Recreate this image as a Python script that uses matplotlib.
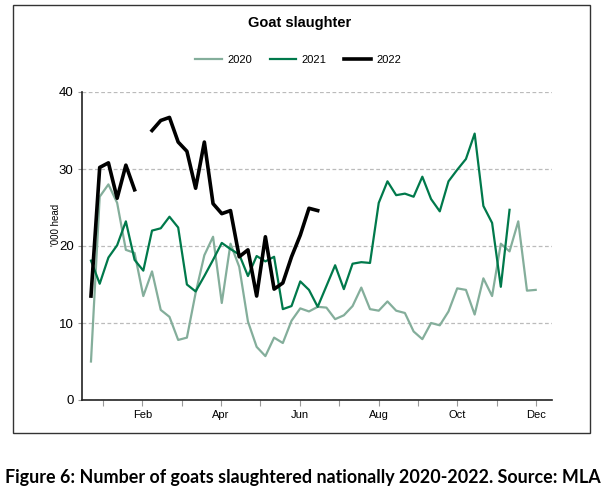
import matplotlib
matplotlib.use("Agg")
from matplotlib import pyplot as plt
from matplotlib.patches import Rectangle
import numpy as np

# weekly goat slaughter ('000 head)
y2020 = [5.0, 26.4, 28.0, 25.6, 19.5, 19.1, 13.5, 16.7, 11.7, 10.8, 7.8, 8.1, 13.9,
         18.8, 21.2, 12.6, 20.3, 17.3, 10.2, 6.9, 5.7, 8.1, 7.4, 10.3, 11.9, 11.5,
         12.1, 12.0, 10.5, 11.0, 12.2, 14.6, 11.8, 11.6, 12.8, 11.6, 11.3, 8.9, 7.9,
         10.0, 9.7, 11.5, 14.5, 14.3, 11.1, 15.8, 13.5, 20.3, 19.3, 23.2, 14.2, 14.3]
y2021 = [18.1, 15.1, 18.5, 20.1, 23.2, 18.2, 16.8, 22.0, 22.3, 23.8, 22.4, 15.0, 14.1,
         16.1, 18.2, 20.4, 19.6, 18.9, 16.1, 18.7, 18.0, 18.6, 11.8, 12.2, 15.4, 14.3,
         12.1, 14.8, 17.5, 14.4, 17.7, 17.9, 17.8, 25.6, 28.4, 26.6, 26.8, 26.4, 29.0,
         26.1, 24.5, 28.4, 29.9, 31.3, 34.6, 25.2, 23.0, 14.7, 24.7]
y2022 = [13.5, 30.2, 30.8, 26.2, 30.5, 27.3, np.nan, 35.0, 36.3, 36.7, 33.5, 32.3, 27.5,
         33.5, 25.5, 24.2, 24.6, 18.6, 19.5, 13.5, 21.2, 14.4, 15.2, 18.6, 21.4, 24.9,
         24.6]

months = ['Jan', 'Feb', 'Mar', 'Apr', 'May', 'Jun', 'Jul', 'Aug', 'Sep', 'Oct', 'Nov', 'Dec']
month_labels = [m if i % 2 == 1 else '' for i, m in enumerate(months)]

plt.rcParams.update({'font.family': ['Liberation Sans', 'DejaVu Sans']})

Figure = plt.figure(figsize=(6.06, 4.96), dpi=100)
Graph = Figure.add_axes([82/606, 1 - 400/496, (552-82)/606, (400-92)/496])

Graph.plot(np.arange(len(y2020)), y2020, color='#84ae9b', linewidth=1.6, label='2020')
Graph.plot(np.arange(len(y2021)), y2021, color='#00794b', linewidth=1.6, label='2021')
Graph.plot(np.arange(len(y2022)), y2022, color='black', linewidth=2.6, label='2022')

Graph.set_xlim(-1.03, 52.87)
Graph.set_ylim(0, 40)

# month ticks (every month marked, every other one labelled)
Xticks = 1.38 + 4.514 * np.arange(12)
Graph.set_xticks(Xticks)
Graph.set_xticklabels(month_labels, fontsize=8)
Graph.tick_params(axis='x', length=4, color='#999999', pad=3)

Graph.set_yticks([0, 10, 20, 30, 40])
Graph.set_yticklabels(['0', '10', '20', '30', '40'], fontsize=9.5)
Graph.tick_params(axis='y', length=3, color='#999999', pad=3)
Graph.set_ylabel("'000 head", fontsize=7)
Graph.yaxis.set_label_coords(-0.045, 0.57)

for s in ['top', 'right']:
    Graph.spines[s].set_visible(False)
for s in ['left', 'bottom']:
    Graph.spines[s].set_linewidth(1.2)
    Graph.spines[s].set_color('#222222')

Graph.set_axisbelow(True)
Graph.yaxis.grid(color='#bbbbbb', linestyle=(0, (3, 2)), linewidth=0.9)

lg = Graph.legend(loc='lower center', bbox_to_anchor=(0.46, 1.055), ncol=3, frameon=False,
                  fontsize=8, handlelength=2.4, columnspacing=1.6, handletextpad=0.5)

Figure.text(0.495, 1 - 23/496, 'Goat slaughter', ha='center', va='center',
            fontsize=10.5, fontweight='bold')

Figure.patches.append(Rectangle((13/606, 1 - 433/496), (590-13)/606, (433-5)/496,
                                transform=Figure.transFigure, fill=False,
                                edgecolor='#333333', linewidth=1.0))

Figure.text(0.5, 1 - 478/496,
            'Figure 6: Number of goats slaughtered nationally 2020-2022. Source: MLA',
            ha='center', va='center', fontsize=12.9, fontweight='bold',
            family=['Lato', 'DejaVu Sans'])

Figure.savefig('out.png', dpi=100)
